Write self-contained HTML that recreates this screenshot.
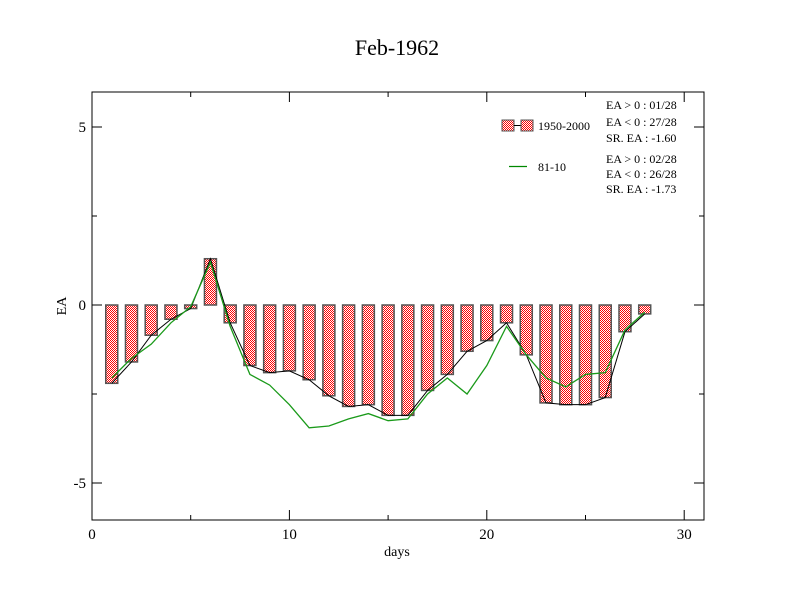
<!DOCTYPE html>
<html><head><meta charset="utf-8"><style>
body{margin:0;background:#fff}
svg{font-family:"Liberation Serif",serif;display:block}
</style></head><body>
<svg id="c" width="792" height="612" viewBox="0 0 792 612">
<defs><pattern id="chk" width="2" height="2" patternUnits="userSpaceOnUse"><rect width="2" height="2" fill="#fff"/><rect width="1" height="1" fill="#f00"/><rect x="1" y="1" width="1" height="1" fill="#f00"/></pattern></defs>
<text x="397" y="55" font-size="22" text-anchor="middle">Feb-1962</text>
<rect x="92" y="92" width="612" height="428" fill="none" stroke="#000"/>
<g id="axes"></g><g id="bars"></g><g id="lines"></g>
<text x="397" y="556" font-size="14" text-anchor="middle">days</text>
<text x="66" y="306" font-size="14" text-anchor="middle" transform="rotate(-90 66 306)">EA</text>
<g font-size="12">
<rect x="502" y="120" width="12" height="11" fill="url(#chk)" stroke="#555"/>
<line x1="514" y1="125.5" x2="521" y2="125.5" stroke="#000"/>
<rect x="521" y="120" width="12" height="11" fill="url(#chk)" stroke="#555"/>
<text x="538" y="130">1950-2000</text>
<line x1="509" y1="166.5" x2="527" y2="166.5" stroke="#080" stroke-width="1.2"/>
<text x="538" y="171">81-10</text>
<text x="606" y="109">EA &gt; 0 : 01/28</text>
<text x="606" y="126">EA &lt; 0 : 27/28</text>
<text x="606" y="142">SR. EA : -1.60</text>
<text x="606" y="163">EA &gt; 0 : 02/28</text>
<text x="606" y="178">EA &lt; 0 : 26/28</text>
<text x="606" y="193">SR. EA : -1.73</text>
</g>
</svg>
<script>
const days=[1,2,3,4,5,6,7,8,9,10,11,12,13,14,15,16,17,18,19,20,21,22,23,24,25,26,27,28];
const ea5000=[-2.2,-1.6,-0.85,-0.4,-0.1,1.3,-0.5,-1.7,-1.9,-1.85,-2.1,-2.55,-2.85,-2.8,-3.1,-3.1,-2.4,-1.95,-1.3,-1.0,-0.5,-1.4,-2.75,-2.8,-2.8,-2.6,-0.75,-0.25];
const ea8110=[-2.05,-1.5,-1.1,-0.5,-0.05,1.2,-0.6,-1.95,-2.25,-2.8,-3.45,-3.4,-3.2,-3.05,-3.25,-3.2,-2.5,-2.05,-2.5,-1.7,-0.6,-1.4,-2.05,-2.3,-1.95,-1.9,-0.7,-0.2];
const xTicks=[0,10,20,30];
const yTicks=[-5,0,5];
const X=v=>92+v*19.74, Y=v=>305-v*35.6;
const NS="http://www.w3.org/2000/svg";
function mk(p,t,a){const e=document.createElementNS(NS,t);for(const k in a)e.setAttribute(k,a[k]);p.appendChild(e);return e;}
const ax=document.getElementById('axes');
xTicks.forEach(t=>{const x=X(t);
const l=mk(ax,'line',{x1:x,y1:520,x2:x,y2:510,stroke:'#000'});


const l2=mk(ax,'line',{x1:x,y1:92,x2:x,y2:102,stroke:'#000'});


const s=mk(ax,'text',{x:x,y:539,'font-size':15,'text-anchor':'middle'});s.textContent=t;

});
[5,15,25].forEach(t=>{mk(ax,'line',{x1:X(t),y1:520,x2:X(t),y2:515,stroke:'#000'});mk(ax,'line',{x1:X(t),y1:92,x2:X(t),y2:97,stroke:'#000'});});
yTicks.forEach(t=>{const y=Y(t);
const l=mk(ax,'line',{x1:92,y1:y,x2:102,y2:y,stroke:'#000'});


mk(ax,'line',{x1:704,y1:y,x2:694,y2:y,stroke:'#000'});
const s=mk(ax,'text',{x:86,y:y+5,'font-size':15,'text-anchor':'end'});s.textContent=t;

});
[-2.5,2.5].forEach(t=>{mk(ax,'line',{x1:92,y1:Y(t),x2:97,y2:Y(t),stroke:'#000'});mk(ax,'line',{x1:704,y1:Y(t),x2:699,y2:Y(t),stroke:'#000'});});
const bg=document.getElementById('bars');
days.forEach((d,i)=>{const v=ea5000[i];const y0=Y(0),y1=Y(v);
const r=mk(bg,'rect',{x:X(d)-6,y:Math.min(y0,y1),width:12,height:Math.abs(y1-y0),fill:'url(#chk)',stroke:'#555','stroke-width':1.5});

});
const lg=document.getElementById('lines');
const p1=mk(lg,'polyline',{points:days.map((d,i)=>X(d)+','+Y(ea5000[i])).join(' '),fill:'none',stroke:'#000','stroke-width':1});


const p2=mk(lg,'polyline',{points:days.map((d,i)=>X(d)+','+Y(ea8110[i])).join(' '),fill:'none',stroke:'#1a9a1a','stroke-width':1.3});


</script>
</body></html>
